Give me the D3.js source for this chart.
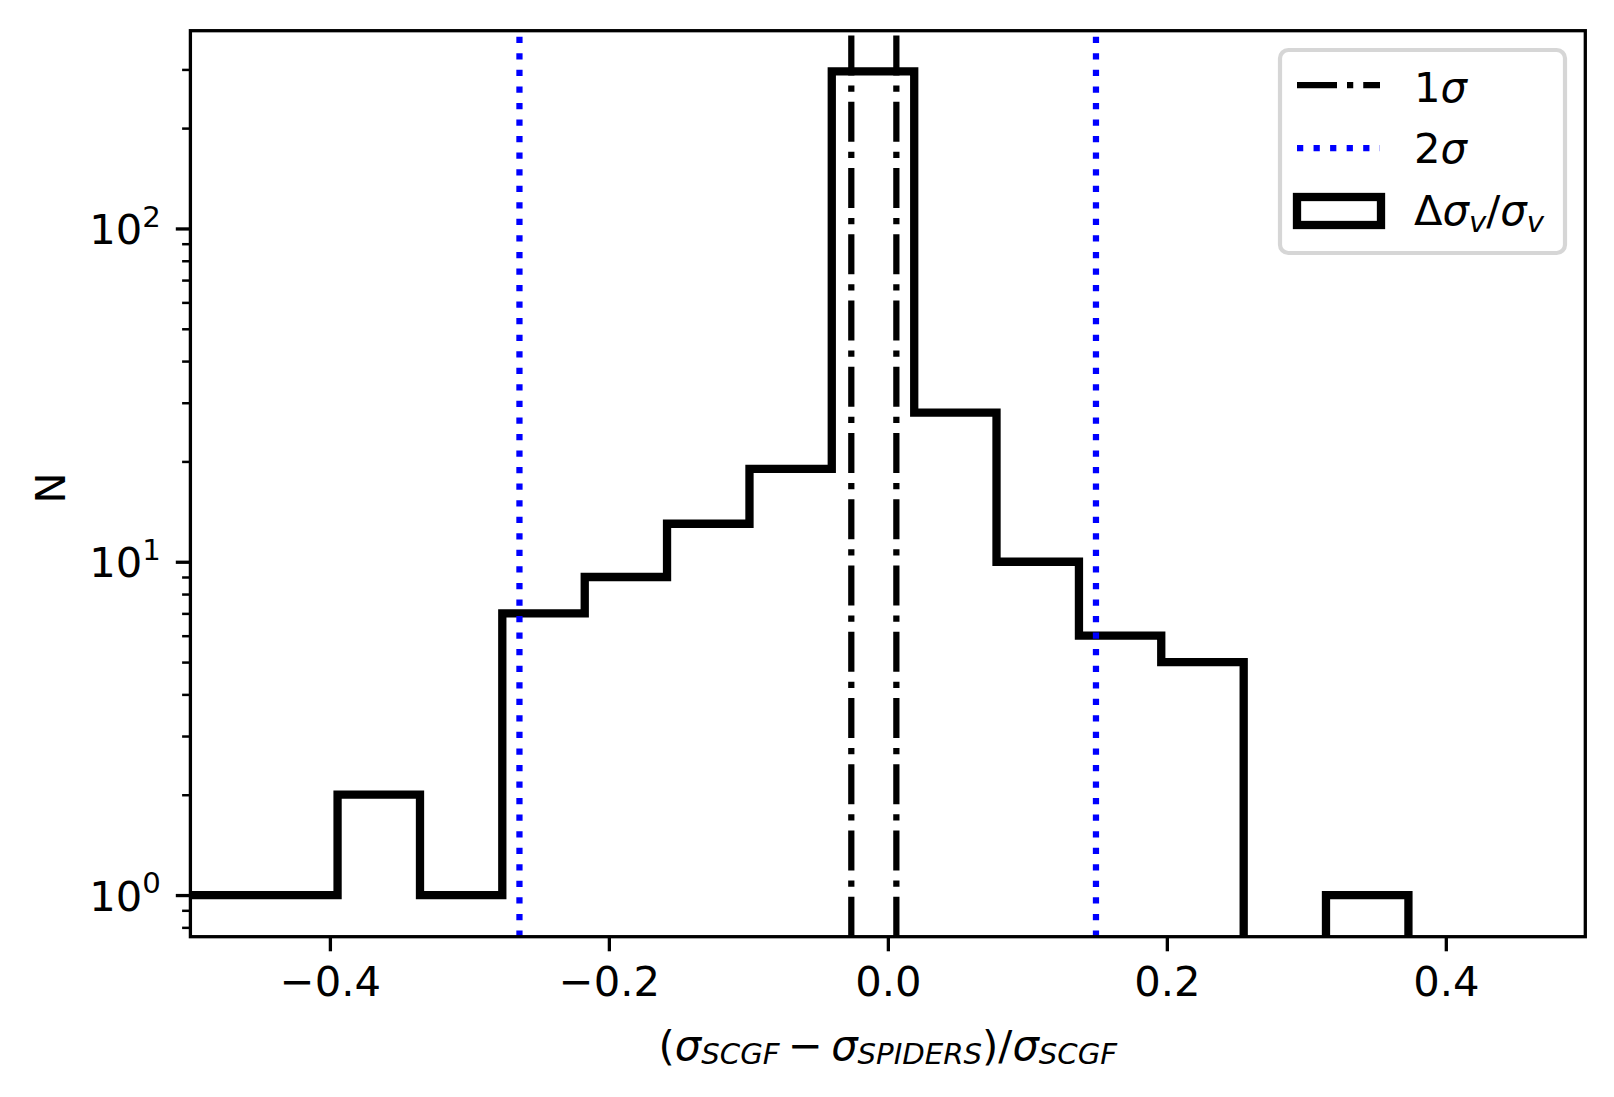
<!DOCTYPE html>
<html>
<head>
<meta charset="utf-8">
<script src="https://cdn.jsdelivr.net/npm/d3@7"></script>
<style>
  body { margin: 0; background: #fff; }
  text { font-family: "DejaVu Sans", sans-serif; fill: #000; }
</style>
</head>
<body>
<svg id="canvas" width="1614" height="1097"></svg>
<script>
// histogram bin edges and counts
var binEdges = [-0.5126, -0.4535, -0.3945, -0.3354, -0.2764, -0.2173, -0.1583, -0.0992,
                -0.0402, 0.0189, 0.0779, 0.1370, 0.1960, 0.2551, 0.3141, 0.3732];
var counts = [1, 1, 2, 1, 7, 9, 13, 19, 296, 28, 10, 6, 5, 0, 1];

// vertical reference lines
var oneSigma = [-0.0262, 0.0061];
var twoSigma = [-0.2641, 0.1492];

var xTicks = [-0.4, -0.2, 0.0, 0.2, 0.4];
var yMajor = [1, 10, 100];
var yMinor = [0.8, 0.9, 2, 3, 4, 5, 6, 7, 8, 9, 20, 30, 40, 50, 60, 70, 80, 90, 200, 300];

var width = 1614, height = 1097;
var margins = { left: 190.4, right: 1614 - 1585.3, top: 30.7, bottom: 1097 - 936.7 };
var fs = 41.7;

var canvas = d3.select("#canvas");

var x = d3.scaleLinear().domain([-0.5, 0.5]).range([margins.left, width - margins.right]);
var y = d3.scaleLog().domain([0.75, 392]).range([height - margins.bottom, margins.top]);

var x0 = margins.left, x1 = width - margins.right;
var y0 = height - margins.bottom, y1 = margins.top;

canvas.append("defs").append("clipPath").attr("id", "plotclip")
  .append("rect")
  .attr("x", x0).attr("y", y1)
  .attr("width", x1 - x0).attr("height", y0 - y1);

// histogram outline (step)
var pts = [{ e: binEdges[0], c: 0 }];
counts.forEach(function(c, i) {
  pts.push({ e: binEdges[i], c: c });
  pts.push({ e: binEdges[i + 1], c: c });
});
pts.push({ e: binEdges[binEdges.length - 1], c: 0 });

var line = d3.line()
  .x(function(d) { return x(d.e); })
  .y(function(d) { return d.c > 0 ? y(d.c) : y0 + 20; });

var plot = canvas.append("g").attr("clip-path", "url(#plotclip)");

plot.append("path")
  .datum(pts)
  .attr("d", line)
  .attr("fill", "none")
  .attr("stroke", "#000")
  .attr("stroke-width", 8.3)
  .attr("stroke-linejoin", "miter");

// 1 sigma lines (dash-dot)
plot.selectAll(".one")
  .data(oneSigma)
  .enter()
  .append("line")
  .attr("x1", function(d) { return x(d); })
  .attr("x2", function(d) { return x(d); })
  .attr("y1", y0).attr("y2", y1)
  .attr("stroke", "#000")
  .attr("stroke-width", 6.25)
  .attr("stroke-dasharray", "40,10,6.25,10");

// 2 sigma lines (dotted blue)
plot.selectAll(".two")
  .data(twoSigma)
  .enter()
  .append("line")
  .attr("x1", function(d) { return x(d); })
  .attr("x2", function(d) { return x(d); })
  .attr("y1", y0).attr("y2", y1)
  .attr("stroke", "#0000ff")
  .attr("stroke-width", 6.25)
  .attr("stroke-dasharray", "6.25,10.3");

// x axis
var xAxis = canvas.append("g")
  .attr("transform", "translate(0," + y0 + ")")
  .call(
    d3.axisBottom(x)
      .tickValues(xTicks)
      .tickSize(14.6)
      .tickPadding(14.6)
      .tickFormat(d3.format(".1f"))
  );
xAxis.select(".domain").remove();
xAxis.selectAll("line").attr("stroke-width", 3.3);
xAxis.selectAll("text")
  .attr("font-size", fs)
  .attr("font-family", "DejaVu Sans")
  .attr("dy", "0.72em");

// y axis, major ticks
var yAxis = canvas.append("g")
  .attr("transform", "translate(" + x0 + ",0)")
  .call(
    d3.axisLeft(y)
      .tickValues(yMajor)
      .tickSize(14.6)
      .tickFormat("")
  );
yAxis.select(".domain").remove();
yAxis.selectAll("line").attr("stroke-width", 3.3);

// y axis, minor ticks
var yAxisMinor = canvas.append("g")
  .attr("transform", "translate(" + x0 + ",0)")
  .call(
    d3.axisLeft(y)
      .tickValues(yMinor)
      .tickSize(8.3)
      .tickFormat("")
  );
yAxisMinor.select(".domain").remove();
yAxisMinor.selectAll("line").attr("stroke-width", 2.5);

// y tick labels 10^n
var ylab = canvas.append("g").selectAll("text")
  .data(yMajor)
  .enter()
  .append("text")
  .attr("x", x0 - 29.5)
  .attr("y", function(d) { return y(d) + 15.7; })
  .attr("text-anchor", "end")
  .attr("font-size", fs);
ylab.append("tspan").text("10");
ylab.append("tspan")
  .attr("dy", -17.4)
  .attr("font-size", fs * 0.7)
  .text(function(d) { return Math.round(Math.log10(d)); });

// frame
canvas.append("rect")
  .attr("x", x0).attr("y", y1)
  .attr("width", x1 - x0).attr("height", y0 - y1)
  .attr("fill", "none")
  .attr("stroke", "#000")
  .attr("stroke-width", 3.3);

// y axis title
canvas.append("g")
  .attr("transform", "translate(65,488) rotate(-90)")
  .append("text")
  .attr("text-anchor", "middle")
  .attr("font-size", fs)
  .text("N");

// x axis title
var xt = canvas.append("text")
  .attr("x", (x0 + x1) / 2)
  .attr("y", 1060)
  .attr("text-anchor", "middle")
  .attr("font-size", fs);
xt.append("tspan").text("(");
xt.append("tspan").attr("font-style", "italic").text("σ");
xt.append("tspan").attr("font-style", "italic").attr("font-size", fs * 0.7).attr("dy", 4).text("SCGF");
xt.append("tspan").attr("dy", -4).text("\u2009\u2212\u2009");
xt.append("tspan").attr("font-style", "italic").text("σ");
xt.append("tspan").attr("font-style", "italic").attr("font-size", fs * 0.7).attr("dy", 4).text("SPIDERS");
xt.append("tspan").attr("dy", -4).text(")/");
xt.append("tspan").attr("font-style", "italic").text("σ");
xt.append("tspan").attr("font-style", "italic").attr("font-size", fs * 0.7).attr("dy", 4).text("SCGF");

// legend
var legend = canvas.append("g");
legend.append("rect")
  .attr("x", 1280).attr("y", 50)
  .attr("width", 285).attr("height", 203)
  .attr("rx", 8.3).attr("ry", 8.3)
  .attr("fill", "#fff")
  .attr("fill-opacity", 0.8)
  .attr("stroke", "#d6d6d6")
  .attr("stroke-width", 4.2);

legend.append("line")
  .attr("x1", 1297).attr("x2", 1380)
  .attr("y1", 85).attr("y2", 85)
  .attr("stroke", "#000")
  .attr("stroke-width", 6.25)
  .attr("stroke-dasharray", "40,10,6.25,10");
legend.append("line")
  .attr("x1", 1297).attr("x2", 1380)
  .attr("y1", 148).attr("y2", 148)
  .attr("stroke", "#0000ff")
  .attr("stroke-width", 6.25)
  .attr("stroke-dasharray", "6.25,10.3");
legend.append("rect")
  .attr("x", 1297).attr("y", 197)
  .attr("width", 84).attr("height", 28)
  .attr("fill", "none")
  .attr("stroke", "#000")
  .attr("stroke-width", 8.3)
  .attr("stroke-linejoin", "miter");

var l1 = legend.append("text").attr("x", 1414).attr("y", 101.7).attr("font-size", fs);
l1.append("tspan").text("1");
l1.append("tspan").attr("font-style", "italic").text("σ");
var l2 = legend.append("text").attr("x", 1414).attr("y", 163.3).attr("font-size", fs);
l2.append("tspan").text("2");
l2.append("tspan").attr("font-style", "italic").text("σ");
var l3 = legend.append("text").attr("x", 1414).attr("y", 225).attr("font-size", fs);
l3.append("tspan").text("Δ");
l3.append("tspan").attr("font-style", "italic").text("σ");
l3.append("tspan").attr("font-style", "italic").attr("font-size", fs * 0.7).attr("dy", 6.5).text("v");
l3.append("tspan").attr("dy", -6.5).text("/");
l3.append("tspan").attr("font-style", "italic").text("σ");
l3.append("tspan").attr("font-style", "italic").attr("font-size", fs * 0.7).attr("dy", 6.5).text("v");
</script>
</body>
</html>
